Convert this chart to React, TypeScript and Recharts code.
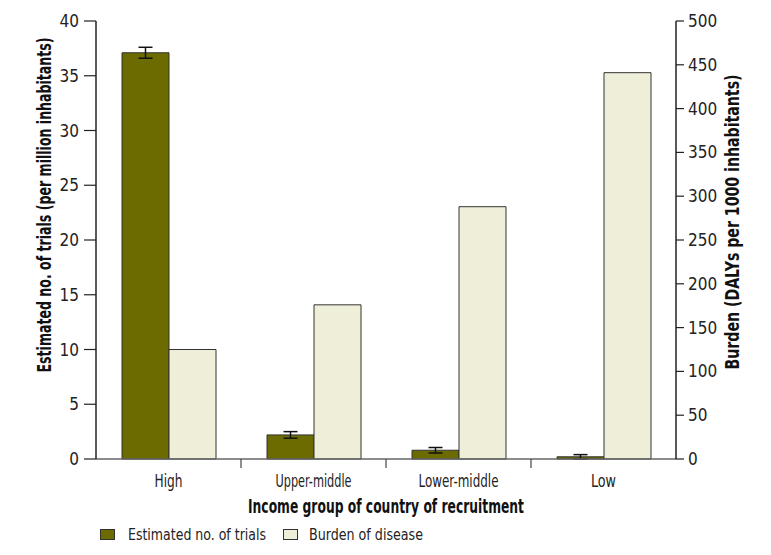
import { BarChart, Bar, XAxis, YAxis, ErrorBar } from 'recharts'

document.body.style.margin = '0'

const categories = ['High', 'Upper-middle', 'Lower-middle', 'Low']
const trials = [37.1, 2.2, 0.8, 0.2]
const trialErrors = [0.5, 0.3, 0.25, 0.2]
const burden = [125, 176, 288, 441]
const leftTicks = [0, 5, 10, 15, 20, 25, 30, 35, 40]
const rightTicks = [0, 50, 100, 150, 200, 250, 300, 350, 400, 450, 500]

const FONT = "'DejaVu Sans', sans-serif"
const GREEN = '#6b6b00'
const BEIGE = '#efefd9'
// label widths in px, to mimic the condensed face of the original
const TICK_WIDTH: Record<string, number> = { High: 28, 'Upper-middle': 76, 'Lower-middle': 80, Low: 25 }

const data = categories.map((c, i) => ({
  name: c,
  trials: trials[i],
  err: trialErrors[i],
  burden: burden[i],
}))

const HALF_BAND = 72.5

function XTick({ x, y, payload, index }: any) {
  return (
    <g>
      <text
        x={x}
        y={y + 28}
        textAnchor="middle"
        fontSize={17}
        fill="#222"
        textLength={TICK_WIDTH[payload.value]}
        lengthAdjust="spacingAndGlyphs"
      >
        {payload.value}
      </text>
      {index < categories.length - 1 && (
        <line x1={x + HALF_BAND} x2={x + HALF_BAND} y1={y} y2={y + 9} stroke="#444" strokeWidth={1.2} />
      )}
    </g>
  )
}

function Legend() {
  return (
    <svg width={400} height={26} style={{ position: 'absolute', left: 96, top: 522 }}>
      <rect x={4.5} y={7.5} width={14} height={10} fill={GREEN} stroke="#333" />
      <text x={32} y={18} fontSize={16} fill="#222" textLength={138} lengthAdjust="spacingAndGlyphs">
        Estimated no. of trials
      </text>
      <rect x={187.5} y={7.5} width={14} height={10} fill={BEIGE} stroke="#333" />
      <text x={213} y={18} fontSize={16} fill="#222" textLength={114} lengthAdjust="spacingAndGlyphs">
        Burden of disease
      </text>
    </svg>
  )
}

export default function App() {
  return (
    <div
      style={{
        position: 'relative',
        width: 771,
        height: 555,
        background: '#fff',
        fontFamily: FONT,
        fontStretch: 'condensed',
      }}
    >
      <BarChart
        width={771}
        height={555}
        data={data}
        margin={{ top: 21, right: 0, bottom: 0, left: 0 }}
        barGap={0}
        barSize={47}
      >
        <XAxis
          dataKey="name"
          height={96}
          tickSize={0}
          tickMargin={0}
          tickLine={false}
          axisLine={{ stroke: '#666', strokeWidth: 1.5 }}
          tick={<XTick />}
          interval={0}
          label={({ viewBox }: any) => (
            <text
              x={viewBox.x + viewBox.width / 2}
              y={viewBox.y + 54}
              textAnchor="middle"
              fontSize={19}
              fontWeight="bold"
              fill="#111"
              textLength={276}
              lengthAdjust="spacingAndGlyphs"
            >
              Income group of country of recruitment
            </text>
          )}
        />
        <YAxis
          yAxisId="left"
          orientation="left"
          width={96}
          domain={[0, 40]}
          ticks={leftTicks}
          interval={0}
          tickSize={12}
          tickMargin={5}
          tick={{ fontSize: 17, fill: '#222' }}
          axisLine={{ stroke: '#222', strokeWidth: 1.5 }}
          tickLine={{ stroke: '#222', strokeWidth: 1.2 }}
          label={() => (
            <text
              transform="translate(45, 205) rotate(-90)"
              textAnchor="middle"
              dominantBaseline="middle"
              fontSize={19}
              fontWeight="bold"
              fill="#111"
              textLength={335}
              lengthAdjust="spacingAndGlyphs"
            >
              Estimated no. of trials (per million inhabitants)
            </text>
          )}
        />
        <YAxis
          yAxisId="right"
          orientation="right"
          width={95}
          domain={[0, 500]}
          ticks={rightTicks}
          interval={0}
          tickSize={8}
          tickMargin={4}
          tick={{ fontSize: 17, fill: '#222' }}
          axisLine={{ stroke: '#222', strokeWidth: 1.5 }}
          tickLine={{ stroke: '#222', strokeWidth: 1.2 }}
          label={() => (
            <text
              transform="translate(733, 222) rotate(-90)"
              textAnchor="middle"
              dominantBaseline="middle"
              fontSize={19}
              fontWeight="bold"
              fill="#111"
              textLength={295}
              lengthAdjust="spacingAndGlyphs"
            >
              Burden (DALYs per 1000 inhabitants)
            </text>
          )}
        />
        <Bar yAxisId="left" dataKey="trials" fill={GREEN} stroke="#333" strokeWidth={1} isAnimationActive={false}>
          <ErrorBar dataKey="err" width={7} stroke="#111" strokeWidth={1.5} direction="y" />
        </Bar>
        <Bar yAxisId="right" dataKey="burden" fill={BEIGE} stroke="#333" strokeWidth={1} isAnimationActive={false} />
      </BarChart>
      <Legend />
    </div>
  )
}
